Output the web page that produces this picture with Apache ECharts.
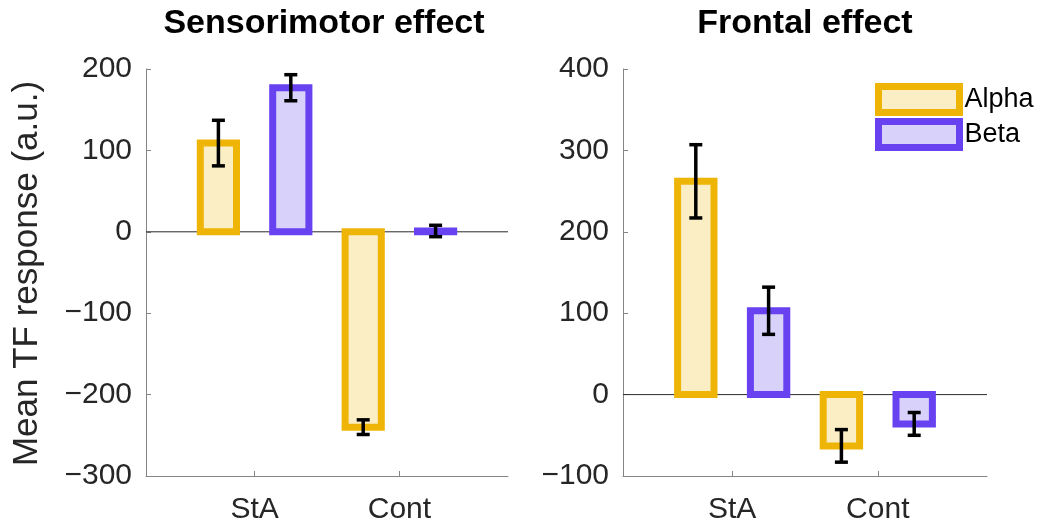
<!DOCTYPE html>
<html>
<head>
<meta charset="utf-8">
<title>Mean TF response</title>
<script src="https://cdn.jsdelivr.net/npm/echarts@6/dist/echarts.min.js"></script>
<style>
  html, body { margin: 0; padding: 0; background: #fff; }
  #chart { width: 1042px; height: 525px; }
</style>
</head>
<body>
<div id="chart"></div>
<script>
// Conditions on the x axis
const categories = ['StA', 'Cont'];
const bandNames = ['Alpha', 'Beta'];

// Sensorimotor effect: means and error half-widths
const sensAlpha = [109, -240];
const sensAlphaErr = [28, 9];
const sensBeta = [177, 1];
const sensBetaErr = [16, 7];

// Frontal effect: means and error half-widths
const frontAlpha = [262, -63];
const frontAlphaErr = [45, 20];
const frontBeta = [103, -36];
const frontBetaErr = [29, 14];

// Y tick values per panel
const sensTicks = [-300, -200, -100, 0, 100, 200];
const frontTicks = [-100, 0, 100, 200, 300, 400];

const FONT = '"Liberation Sans", Arial, Helvetica, sans-serif';
const ALPHA_STROKE = '#EFB506';
const ALPHA_FILL = '#FBEEC5';
const BETA_STROKE = '#6842F0';
const BETA_FILL = '#D8D1FA';
const BAR_HALF = 0.125;      // half bar width in x units
const GROUP_OFFSET = 0.25;   // bar offset from category center
const EDGE = 7;              // bar outline width (px)
const AXIS_GREY = '#858585';

const minus = v => String(v).replace('-', '\u2212');

function barSeries(name, values, errs, offset, idx, fill, stroke) {
  return {
    type: 'custom',
    name: name,
    xAxisIndex: idx,
    yAxisIndex: idx,
    z: 3,
    clip: false,
    data: values.map((v, i) => [i + 1 + offset, v, errs[i]]),
    encode: { x: 0, y: 1 },
    itemStyle: { color: fill, borderColor: stroke, borderWidth: EDGE },
    renderItem: function (params, api) {
      const x = api.value(0), y = api.value(1), e = api.value(2);
      const pTop = api.coord([x - BAR_HALF, y]);
      const pBase = api.coord([x + BAR_HALF, 0]);
      const pc = api.coord([x, y]);
      const pHi = api.coord([x, y + e]);
      const pLo = api.coord([x, y - e]);
      const cap = 6.5;
      const errStyle = { stroke: '#000', lineWidth: 3.5, lineCap: 'butt' };
      return {
        type: 'group',
        children: [
          {
            type: 'rect',
            shape: {
              x: pTop[0],
              y: Math.min(pTop[1], pBase[1]),
              width: pBase[0] - pTop[0],
              height: Math.abs(pBase[1] - pTop[1])
            },
            style: { fill: fill, stroke: stroke, lineWidth: EDGE, lineJoin: 'miter' }
          },
          { type: 'line', shape: { x1: pc[0], y1: pHi[1], x2: pc[0], y2: pLo[1] }, style: errStyle },
          { type: 'line', shape: { x1: pc[0] - cap, y1: pHi[1], x2: pc[0] + cap, y2: pHi[1] }, style: errStyle },
          { type: 'line', shape: { x1: pc[0] - cap, y1: pLo[1], x2: pc[0] + cap, y2: pLo[1] }, style: errStyle }
        ]
      };
    }
  };
}

function baseline(idx) {
  return {
    type: 'line',
    name: 'baseline' + idx,
    xAxisIndex: idx,
    yAxisIndex: idx,
    z: 1,
    silent: true,
    symbol: 'none',
    data: [[0.25, 0], [2.75, 0]],
    lineStyle: { color: '#2a2a2a', width: 1 }
  };
}

function xAxis(idx) {
  return {
    type: 'value',
    gridIndex: idx,
    min: 0.25,
    max: 2.75,
    splitLine: { show: false },
    axisLine: { show: true, onZero: false, lineStyle: { color: AXIS_GREY, width: 1 } },
    axisTick: { show: true, inside: true, length: 5, customValues: [1, 2], lineStyle: { color: AXIS_GREY } },
    axisLabel: {
      customValues: [1, 2],
      formatter: v => categories[Math.round(v) - 1] || '',
      fontSize: 30, fontFamily: FONT, color: '#262626', margin: 19
    }
  };
}

function yAxis(idx, ticks) {
  return {
    type: 'value',
    gridIndex: idx,
    min: ticks[0],
    max: ticks[ticks.length - 1],
    interval: ticks[1] - ticks[0],
    splitLine: { show: false },
    axisLine: { show: true, onZero: false, lineStyle: { color: AXIS_GREY, width: 1 } },
    axisTick: { show: true, inside: true, length: 5, lineStyle: { color: AXIS_GREY } },
    axisLabel: {
      formatter: v => minus(v),
      fontSize: 30, fontFamily: FONT, color: '#262626', margin: 14
    }
  };
}

const chart = echarts.init(document.getElementById('chart'), null, { renderer: 'canvas' });

chart.setOption({
  animation: false,
  backgroundColor: '#fff',
  grid: [
    { left: 146, top: 69, width: 362, height: 409 },
    { left: 623, top: 69, width: 364, height: 409 }
  ],
  xAxis: [xAxis(0), xAxis(1)],
  yAxis: [yAxis(0, sensTicks), yAxis(1, frontTicks)],
  legend: {
    orient: 'vertical',
    left: 870,
    top: 78,
    itemWidth: 81,
    itemHeight: 26,
    itemGap: 2,
    textStyle: { fontSize: 27, fontFamily: FONT, color: '#000' },
    data: [
      { name: bandNames[0], icon: 'rect', itemStyle: { color: ALPHA_FILL, borderColor: ALPHA_STROKE, borderWidth: EDGE } },
      { name: bandNames[1], icon: 'rect', itemStyle: { color: BETA_FILL, borderColor: BETA_STROKE, borderWidth: EDGE } }
    ]
  },
  graphic: [
    {
      type: 'text', x: 324, y: 24,
      style: { text: 'Sensorimotor effect', font: 'bold 34px ' + FONT, fill: '#000', align: 'center', verticalAlign: 'middle' }
    },
    {
      type: 'text', x: 805, y: 24,
      style: { text: 'Frontal effect', font: 'bold 34px ' + FONT, fill: '#000', align: 'center', verticalAlign: 'middle' }
    },
    {
      type: 'text', x: 27, y: 273.5, rotation: Math.PI / 2,
      style: { text: 'Mean TF response (a.u.)', font: '35px ' + FONT, fill: '#262626', align: 'center', verticalAlign: 'middle' }
    }
  ],
  series: [
    baseline(0),
    baseline(1),
    barSeries(bandNames[0], sensAlpha, sensAlphaErr, -GROUP_OFFSET, 0, ALPHA_FILL, ALPHA_STROKE),
    barSeries(bandNames[1], sensBeta, sensBetaErr, GROUP_OFFSET, 0, BETA_FILL, BETA_STROKE),
    barSeries(bandNames[0], frontAlpha, frontAlphaErr, -GROUP_OFFSET, 1, ALPHA_FILL, ALPHA_STROKE),
    barSeries(bandNames[1], frontBeta, frontBetaErr, GROUP_OFFSET, 1, BETA_FILL, BETA_STROKE)
  ]
});
</script>
</body>
</html>
